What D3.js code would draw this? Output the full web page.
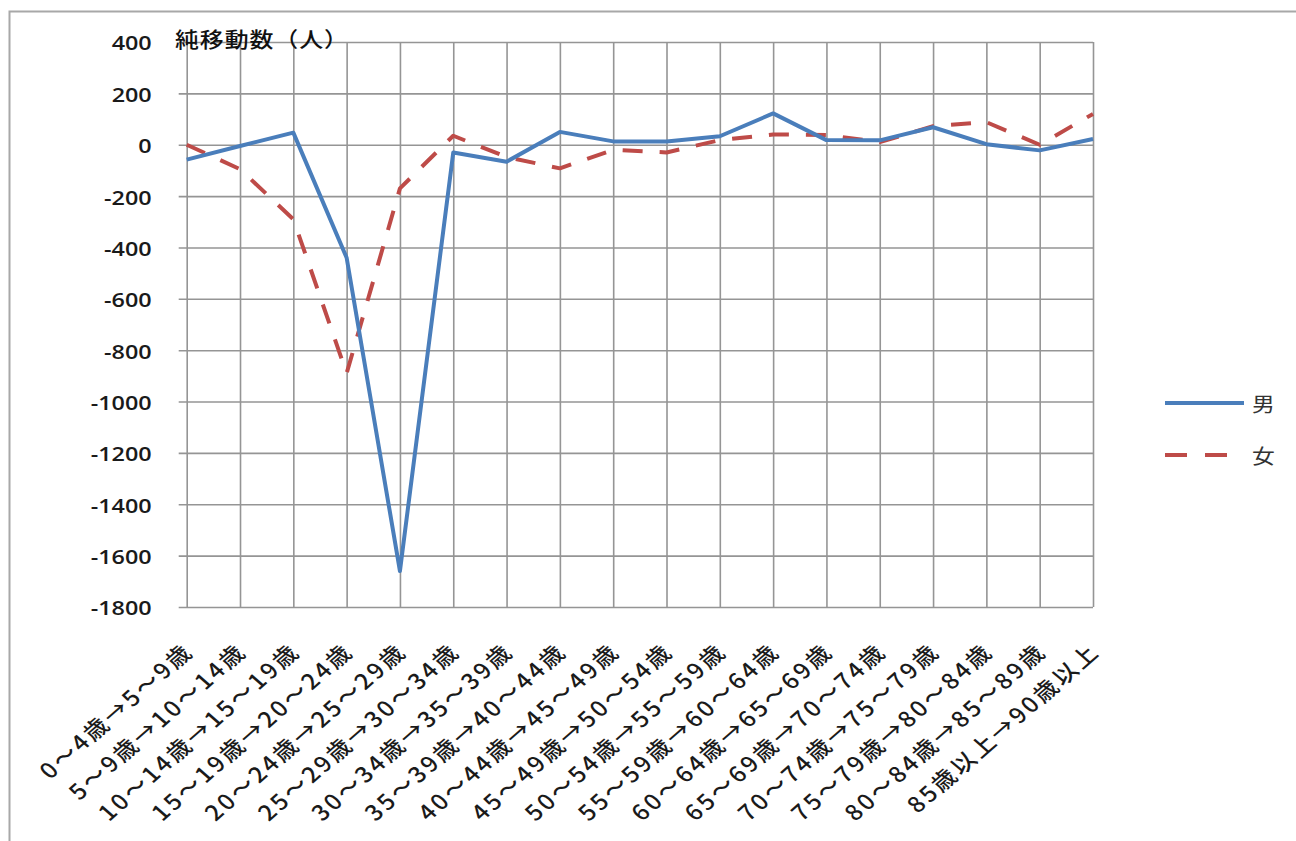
<!DOCTYPE html>
<html lang="ja">
<head>
<meta charset="utf-8">
<script src="https://cdn.jsdelivr.net/npm/d3@7"></script>
<style>
  html, body { margin: 0; padding: 0; background: #fff; }
  svg { display: block; }
</style>
</head>
<body>
<svg id="chart" width="1296" height="841"></svg>
<script>
// 年齢階級（5歳階級の移行）
const categories = [
  "0～4歳→5～9歳", "5～9歳→10～14歳", "10～14歳→15～19歳", "15～19歳→20～24歳",
  "20～24歳→25～29歳", "25～29歳→30～34歳", "30～34歳→35～39歳", "35～39歳→40～44歳",
  "40～44歳→45～49歳", "45～49歳→50～54歳", "50～54歳→55～59歳", "55～59歳→60～64歳",
  "60～64歳→65～69歳", "65～69歳→70～74歳", "70～74歳→75～79歳", "75～79歳→80～84歳",
  "80～84歳→85～89歳", "85歳以上→90歳以上"
];

// 純移動数（人）
const male   = [-58, -5, 47, -440, -1660, -30, -66, 50, 13, 13, 33, 122, 18, 17, 68, 2, -22, 22];
const female = [0, -95, -290, -890, -170, 35, -48, -92, -20, -30, 18, 40, 38, 10, 72, 88, 0, 120];

const yTicks = [400, 200, 0, -200, -400, -600, -800, -1000, -1200, -1400, -1600, -1800];
const seriesNames = ["男", "女"];
const yTitle = "純移動数（人）";

const svg = d3.select("#chart");
const plot = { left: 186.7, right: 1093, top: 42, bottom: 607 };
const sx = 1.14;            // horizontal stretch of the lettering
const gridColor = "#959595";
const textColor = "#1a1a1a";
const blue = "#4a7ebb", red = "#be4b48";
const jpFont = "'Noto Sans CJK JP', 'Noto Sans', sans-serif";
const numFont = "'Open Sans', 'Noto Sans', sans-serif";

// outer frame
svg.append("rect")
  .attr("x", 9.5).attr("y", 11.5)
  .attr("width", 1400).attr("height", 1000)
  .attr("fill", "none").attr("stroke", "#a8a8a8").attr("stroke-width", 2);

const x = d3.scalePoint().domain(categories).range([plot.left, plot.right]);
const y = d3.scaleLinear().domain([-1800, 400]).range([plot.bottom, plot.top]);

// horizontal gridlines + y tick labels (plain hyphen for negatives)
const yAxis = svg.append("g")
  .attr("transform", `translate(${plot.left},0)`)
  .call(d3.axisLeft(y).tickValues(yTicks)
    .tickSizeInner(-(plot.right - plot.left)).tickSizeOuter(0)
    .tickFormat(d => String(d)));
yAxis.select(".domain").remove();
yAxis.selectAll(".tick line")
  .attr("x1", -8)
  .attr("stroke", gridColor).attr("stroke-width", 1.6);
yAxis.selectAll(".tick text")
  .attr("x", null).attr("dy", null)
  .attr("transform", `translate(-35,0) scale(${sx},1)`)
  .attr("dominant-baseline", "central")
  .attr("text-anchor", "end")
  .attr("fill", textColor)
  .style("font-family", numFont)
  .style("font-size", "20.5px")
  .style("font-weight", 600);

// vertical gridlines + rotated category labels
const xAxis = svg.append("g")
  .attr("transform", `translate(0,${plot.bottom})`)
  .call(d3.axisBottom(x).tickSizeInner(-(plot.bottom - plot.top)).tickSizeOuter(0));
xAxis.select(".domain").remove();
xAxis.selectAll(".tick line")
  .attr("stroke", gridColor).attr("stroke-width", 1.6);
xAxis.selectAll(".tick text")
  .attr("y", null).attr("dy", null)
  .attr("transform", `translate(8,46) scale(${sx},1) rotate(-45)`)
  .attr("text-anchor", "end")
  .attr("fill", textColor)
  .style("font-family", jpFont)
  .style("font-size", "21.5px")
  .style("letter-spacing", "2.6px")
  .style("font-weight", 500);

// series lines
const line = d3.line()
  .x((d, i) => x(categories[i]))
  .y(d => y(d));

svg.append("path")
  .datum(female)
  .attr("d", line)
  .attr("fill", "none")
  .attr("stroke", red)
  .attr("stroke-width", 4)
  .attr("stroke-dasharray", "20,17")
  .attr("stroke-linejoin", "round");

svg.append("path")
  .datum(male)
  .attr("d", line)
  .attr("fill", "none")
  .attr("stroke", blue)
  .attr("stroke-width", 4)
  .attr("stroke-linejoin", "round");

// axis title
svg.append("text")
  .attr("transform", `translate(175,47) scale(${sx},1)`)
  .attr("fill", "#111")
  .style("font-family", jpFont)
  .style("font-size", "21px")
  .style("letter-spacing", "0.8px")
  .style("font-weight", 500)
  .text(yTitle);

// legend
const legend = svg.append("g");
const legendItems = [
  { name: seriesNames[0], color: blue, dash: null, y: 403 },
  { name: seriesNames[1], color: red, dash: "22,18", y: 455 }
];
legendItems.forEach(it => {
  legend.append("line")
    .attr("x1", 1165).attr("x2", it.dash ? 1227 : 1244)
    .attr("y1", it.y).attr("y2", it.y)
    .attr("stroke", it.color).attr("stroke-width", 4)
    .attr("stroke-dasharray", it.dash);
  legend.append("text")
    .attr("transform", `translate(1252,${it.y}) scale(${sx},1)`)
    .attr("dominant-baseline", "central")
    .attr("fill", "#333")
    .style("font-family", jpFont)
    .style("font-size", "20px")
    .text(it.name);
});
</script>
</body>
</html>
